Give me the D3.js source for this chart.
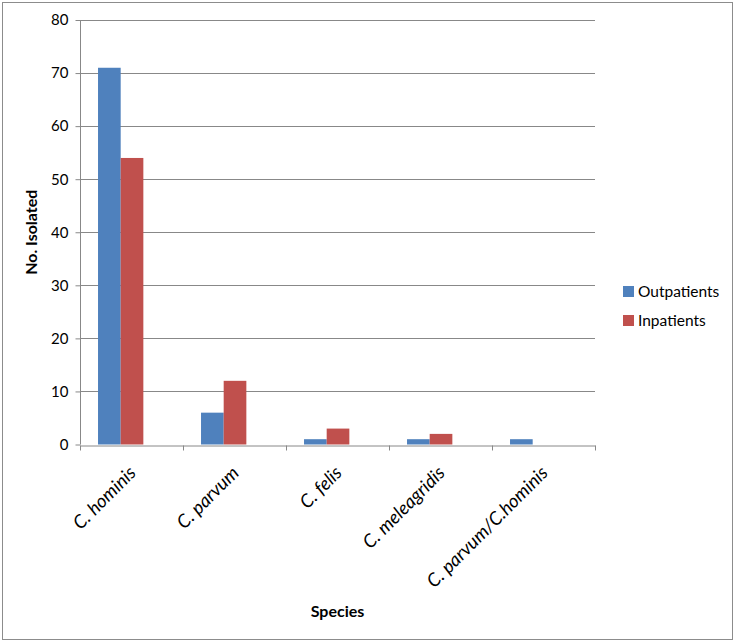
<!DOCTYPE html>
<html>
<head>
<meta charset="utf-8">
<script src="https://cdn.jsdelivr.net/npm/d3@7"></script>
<style>
  body { margin: 0; background: #fff; }
  text { font-family: Lato, "Open Sans", sans-serif; fill: #000; }
</style>
</head>
<body>
<div id="chart"></div>
<script>
// species and counts
const species = ["C. hominis", "C. parvum", "C. felis", "C. meleagridis", "C. parvum/C.hominis"];
const outpatients = [71, 6, 1, 1, 1];
const inpatients = [54, 12, 3, 2, 0];
const seriesNames = ["Outpatients", "Inpatients"];
const seriesColors = ["#4F81BD", "#C0504D"];
const yTicks = [0, 10, 20, 30, 40, 50, 60, 70, 80];

const width = 735, height = 643;
const margin = { left: 80, right: 140, top: 20, bottom: 198.5 };

const svg = d3.select("#chart").append("svg")
  .attr("width", width)
  .attr("height", height);

// outer frame
svg.append("rect")
  .attr("x", 2.5).attr("y", 2.5)
  .attr("width", 730).attr("height", 637)
  .attr("fill", "#fff")
  .attr("stroke", "#8c8c8c")
  .attr("stroke-width", 1);

const x = d3.scaleBand()
  .domain(species)
  .range([margin.left, width - margin.right]);

// the bar pair sits a bit left of the category centre in the original
const x1 = d3.scaleBand()
  .domain(seriesNames)
  .range([x.bandwidth() * 0.175, x.bandwidth() * 0.615]);

const y = d3.scaleLinear()
  .domain([0, 80])
  .range([height - margin.bottom, margin.top]);

// gridlines
svg.append("g")
  .selectAll("line")
  .data(yTicks.filter(d => d > 0))
  .enter().append("line")
  .attr("x1", margin.left).attr("x2", width - margin.right)
  .attr("y1", d => Math.round(y(d)) + 0.5)
  .attr("y2", d => Math.round(y(d)) + 0.5)
  .attr("stroke", "#888")
  .attr("stroke-width", 1);

// y axis
const yAxis = svg.append("g")
  .attr("transform", "translate(" + (margin.left + 0.5) + ",0)")
  .call(d3.axisLeft(y).tickValues(yTicks).tickSize(5).tickPadding(7));
yAxis.selectAll("text").style("font-size", "15px");
yAxis.selectAll("line, path").attr("stroke", "#888");
yAxis.select(".domain").attr("d", "M0," + y(80) + "V" + y(0));

// bars
const rows = species.map((s, i) => ({ species: s, values: [outpatients[i], inpatients[i]] }));
svg.append("g")
  .selectAll("g")
  .data(rows)
  .enter().append("g")
  .attr("transform", d => "translate(" + x(d.species) + ",0)")
  .selectAll("rect")
  .data(d => d.values.map((v, j) => ({ name: seriesNames[j], value: v, color: seriesColors[j] })))
  .enter().append("rect")
  .attr("x", d => x1(d.name))
  .attr("width", x1.bandwidth())
  .attr("y", d => y(d.value))
  .attr("height", d => y(0) - y(d.value))
  .attr("fill", d => d.color);

// x axis
const xAxis = svg.append("g")
  .attr("transform", "translate(0," + (Math.round(y(0)) + 0.5) + ")")
  .call(d3.axisBottom(x).tickSize(0).tickFormat(""));
xAxis.select(".domain").attr("stroke", "#888");
xAxis.selectAll(".tick").remove();

// category boundary ticks
const bounds = species.map(s => x(s)).concat([width - margin.right]);
xAxis.selectAll(".bound")
  .data(bounds)
  .enter().append("line")
  .attr("x1", d => Math.round(d) + 0.5).attr("x2", d => Math.round(d) + 0.5)
  .attr("y1", 0).attr("y2", 5)
  .attr("stroke", "#888");

// rotated category labels
svg.append("g")
  .selectAll("text")
  .data(species)
  .enter().append("text")
  .attr("transform", d => "translate(" + (x(d) + x.bandwidth() / 2 + 1) + "," + (y(0) + 25) + ") rotate(-45)")
  .attr("text-anchor", "end")
  .attr("dy", "0.35em")
  .style("font-size", "18.5px")
  .style("font-style", "italic")
  .text(d => d);

// axis titles
svg.append("text")
  .attr("transform", "translate(37," + ((y(0) + y(80)) / 2) + ") rotate(-90)")
  .attr("text-anchor", "middle")
  .style("font-size", "16px")
  .style("font-weight", "bold")
  .text("No. Isolated");

svg.append("text")
  .attr("x", (margin.left + width - margin.right) / 2)
  .attr("y", 617)
  .attr("text-anchor", "middle")
  .style("font-size", "16px")
  .style("font-weight", "bold")
  .text("Species");

// legend
const legend = svg.append("g")
  .selectAll("g")
  .data(seriesNames)
  .enter().append("g")
  .attr("transform", (d, i) => "translate(623," + (286 + i * 29) + ")");
legend.append("rect")
  .attr("width", 11).attr("height", 11)
  .attr("fill", (d, i) => seriesColors[i]);
legend.append("text")
  .attr("x", 15).attr("y", 6)
  .attr("dy", "0.35em")
  .style("font-size", "15.5px")
  .text(d => d);
</script>
</body>
</html>
